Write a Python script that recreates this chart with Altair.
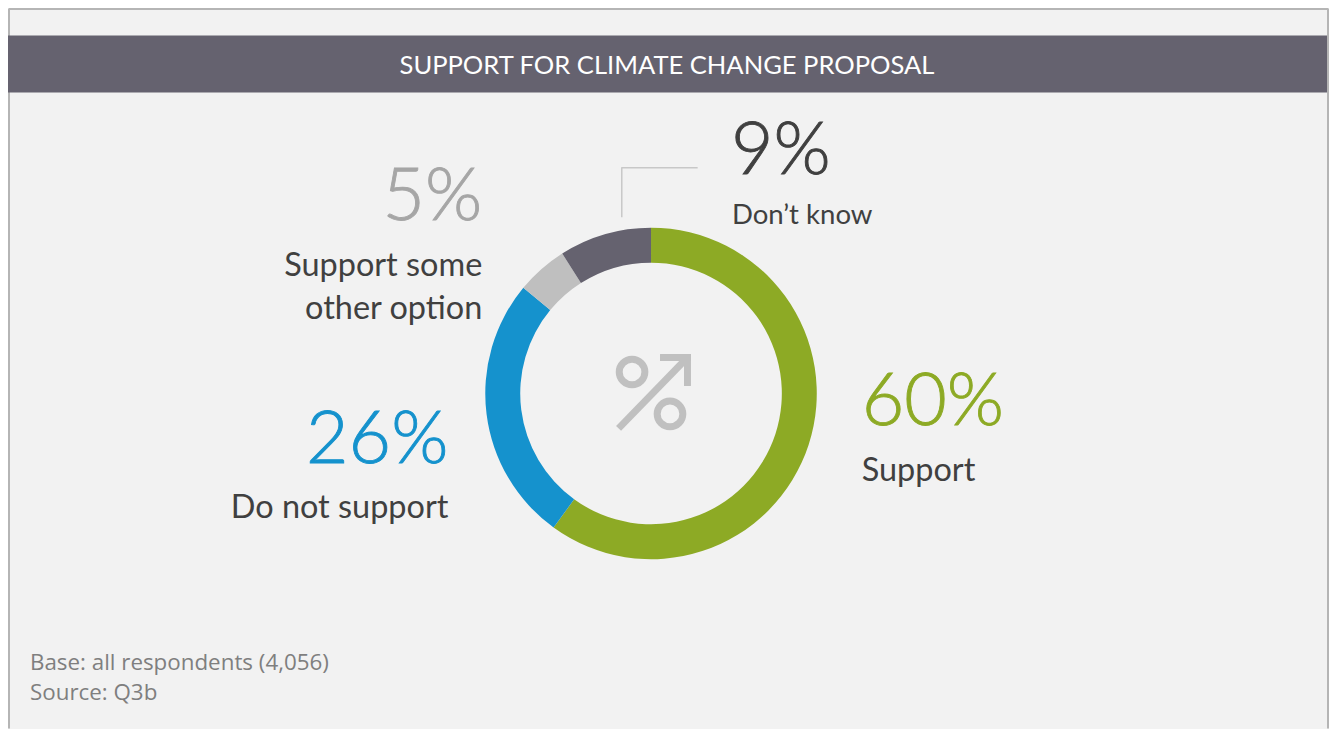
import altair as alt
import pandas as pd

# Chart data
categories = ["Support", "Do not support", "Support some other option", "Don't know"]
shares = [60, 26, 5, 9]
slice_colors = ["#8DAA25", "#1592CD", "#BFBFBF", "#65626F"]
order = [0, 1, 2, 3]

title_text = "SUPPORT FOR CLIMATE CHANGE PROPOSAL"
notes = ["Base: all respondents (4,056)", "Source: Q3b"]

OX, OY = 8, 8  # page margin
W, H = 1323, 721
FONT = "Lato"


def px(v):
    return alt.value(v - OX)


def py(v):
    return alt.value(v - OY)


def text(s, x, y, size, color, align="left", font=FONT, weight=400):
    return alt.Chart(pd.DataFrame({"t": [s]})).mark_text(
        align=align, baseline="alphabetic", fontSize=size, color=color,
        font=font, fontWeight=weight,
    ).encode(x=px(x), y=py(y), text="t:N")


def big(s, x, y, color, align="left"):
    return alt.Chart(pd.DataFrame({"t": [s]})).mark_text(
        align=align, baseline="alphabetic", fontSize=73.5, color=color,
        font=FONT, fontWeight=300, stroke=color, strokeWidth=0.9,
    ).encode(x=px(x), y=py(y), text="t:N")


def seg(x1, y1, x2, y2, color, width, cap="butt"):
    return alt.Chart(pd.DataFrame({"a": [0]})).mark_rule(
        color=color, strokeWidth=width, strokeCap=cap
    ).encode(x=px(x1), y=py(y1), x2=px(x2), y2=py(y2))


df = pd.DataFrame({"category": categories, "share": shares, "idx": order})

donut = alt.Chart(df).mark_arc(outerRadius=166, innerRadius=131).encode(
    x=px(652), y=py(393.5),
    theta=alt.Theta("share:Q", stack=True),
    order=alt.Order("idx:Q", sort="ascending"),
    color=alt.Color("category:N", legend=None,
                    scale=alt.Scale(domain=categories, range=slice_colors)),
)

bar = alt.Chart(pd.DataFrame({"a": [0]})).mark_rect(color="#65626F").encode(
    x=px(8), x2=px(1329), y=py(35), y2=py(92)
)

ICON = "#C0C0C0"
rings = [
    alt.Chart(pd.DataFrame({"a": [0]})).mark_point(
        shape="circle", filled=False, size=660, strokeWidth=7, color=ICON, opacity=1
    ).encode(x=px(cx), y=py(cy))
    for cx, cy in [(633, 372), (671, 414)]
]

layers = [
    seg(9, 8.5, 1330, 8.5, "#B5B5B5", 2),
    seg(9, 8, 9, 729, "#B5B5B5", 2),
    seg(1330, 8, 1330, 729, "#B5B5B5", 2),
    bar,
    donut,
    seg(622.7, 167.5, 698.7, 167.5, "#C8C8C8", 1.5),
    seg(622.7, 167, 622.7, 217, "#C8C8C8", 1.5),
    seg(619.5, 428.5, 688, 358, ICON, 7),
    seg(661, 357.5, 692, 357.5, ICON, 7),
    seg(688.5, 354, 688.5, 386, ICON, 7),
    *rings,
    text(title_text, 668, 74, 25.6, "#FFFFFF", "center"),
    big("9%", 732, 174, "#404040"),
    text("Don\u2019t know", 733, 224, 27.6, "#404040"),
    big("5%", 483, 220, "#A6A6A6", "right"),
    text("Support some", 483, 276, 32.5, "#404040", "right"),
    text("other option", 483, 319, 32.5, "#404040", "right"),
    big("60%", 863, 425, "#8DAA25"),
    text("Support", 863, 481, 32.5, "#404040"),
    big("26%", 449, 463, "#1592CD", "right"),
    text("Do not support", 449, 518, 32.5, "#404040", "right"),
    text(notes[0], 30, 670, 22.4, "#7F7F7F", font="Open Sans"),
    text(notes[1], 30, 701, 22.4, "#7F7F7F", font="Open Sans"),
]

chart = alt.layer(*layers).properties(
    width=W, height=H, background="#F2F2F2", padding=0,
    autosize=alt.AutoSizeParams(type="none"),
).configure_view(stroke=None)

chart.save("out.html", embed_options={"renderer": "svg", "actions": False})
